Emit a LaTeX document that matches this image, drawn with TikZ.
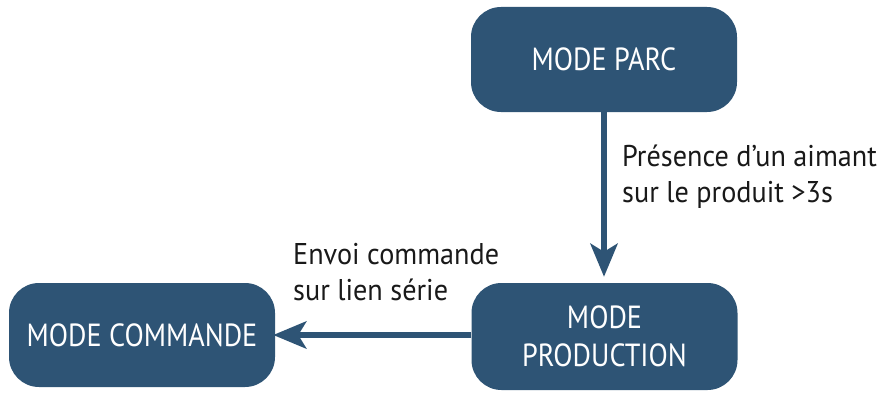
\documentclass[tikz,border=0pt]{standalone}
\usepackage{fontspec}
\setmainfont{PT Sans}[FakeStretch=0.88]
\newfontfamily\lblfont{PT Sans}[FakeStretch=0.94]
\usetikzlibrary{arrows.meta}
\definecolor{boxblue}{RGB}{46,84,117}
\definecolor{txt}{RGB}{25,25,25}
\tikzset{
  modebox/.style={draw=none, fill=boxblue, rounded corners=30pt, text=white,
    minimum width=266pt, minimum height=105pt, align=center, inner sep=0pt,
    font=\fontsize{32}{38}\selectfont},
  lbl/.style={text=txt, align=left, anchor=base west, inner sep=0pt,
    font=\lblfont\fontsize{30}{36}\selectfont},
  flow/.style={draw=boxblue, line width=6.5pt,
    -{Stealth[length=33pt, width=27pt, inset=8pt]}}
}
\begin{document}
\begin{tikzpicture}[x=1pt,y=1pt]
\useasboundingbox (0,0) rectangle (878,392);
\node[modebox] (parc) at (604,332.5) {MODE PARC};
\node[modebox, minimum height=107pt] (prod) at (604.5,55.5) {MODE\\PRODUCTION};
\node[modebox, minimum height=104pt] (cmd) at (142,57) {MODE COMMANDE};
\draw[flow, shorten >=6pt] (parc.south) -- (parc.south |- prod.north);
\draw[flow, shorten >=-2pt] (prod.west |- cmd.east) -- (cmd.east);
\node[lbl] (l1) at (622,190) {Présence d’un aimant\\sur le produit >3s};
\node[lbl] (l2) at (293,92) {Envoi commande\\sur lien série};
\end{tikzpicture}
\end{document}
